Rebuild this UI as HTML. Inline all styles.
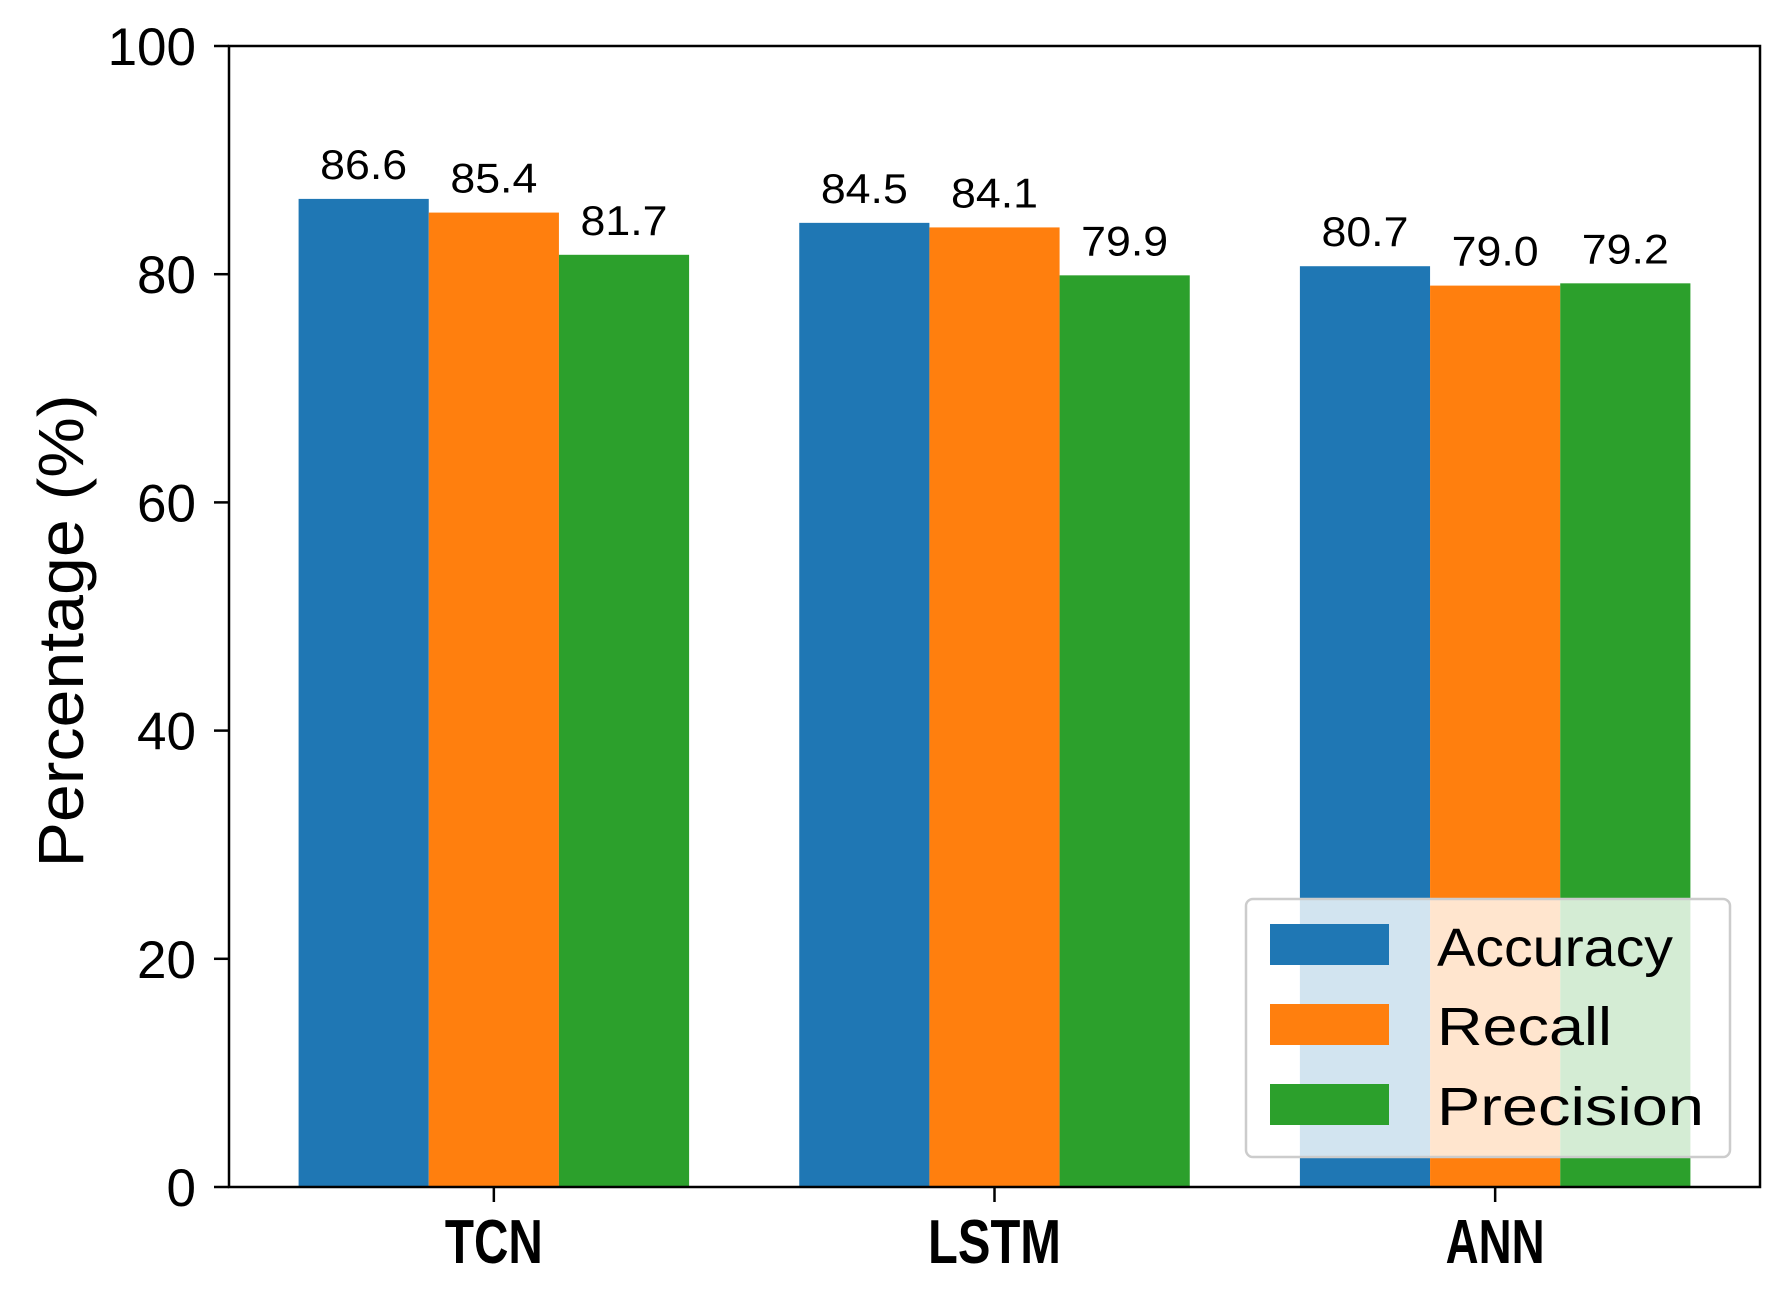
<!DOCTYPE html>
<html><head><meta charset="utf-8"><style>
html,body{margin:0;padding:0;background:#fff;}
svg{display:block;font-family:"Liberation Sans","Noto Sans CJK SC",sans-serif;}
</style></head><body>
<svg id="chart" width="1780" height="1293" viewBox="0 0 1780 1293" xmlns="http://www.w3.org/2000/svg">
<rect x="0" y="0" width="1780" height="1293" fill="#fff"/>
<g id="bars"></g>
<g id="labels"></g>
<g id="yticks"></g>
<g id="xticks"></g>
<rect x="229" y="46" width="1531" height="1141" fill="none" stroke="#000" stroke-width="2.5"/>
<text transform="translate(83,631) rotate(-90)" text-anchor="middle" font-size="64" textLength="473" lengthAdjust="spacingAndGlyphs">Percentage (%)</text>
<g id="legend">
<rect x="1246" y="899" width="484" height="258" rx="7" fill="#fff" fill-opacity="0.8" stroke="#ccc" stroke-width="2.5"/>
</g>
</svg>
<script>
const categories = ["TCN", "LSTM", "ANN"];
const seriesNames = ["Accuracy", "Recall", "Precision"];
const accuracy = [86.6, 84.5, 80.7];
const recall = [85.4, 84.1, 79.0];
const precision = [81.7, 79.9, 79.2];
const yTicks = [0, 20, 40, 60, 80, 100];

const series = [accuracy, recall, precision];
const colors = ["#1f77b4", "#ff7f0e", "#2ca02c"];
const NS = "http://www.w3.org/2000/svg";
const X0 = 229, X1 = 1760, Y0 = 1187, Y1 = 46;
const xMin = -0.529, xMax = 2.529, barW = 0.26;
function xs(v){ return X0 + (v - xMin) / (xMax - xMin) * (X1 - X0); }
function ys(v){ return Y0 - v / 100 * (Y0 - Y1); }
function mk(tag, attrs, parent){ const e = document.createElementNS(NS, tag); for (const k in attrs) e.setAttribute(k, attrs[k]); parent.appendChild(e); return e; }

const gb = document.getElementById('bars'), gl = document.getElementById('labels');
series.forEach((vals, s) => {
  vals.forEach((v, i) => {
    const c = i + (s - 1) * barW;
    const r = mk('rect', {x: xs(c - barW/2), y: ys(v), width: xs(c + barW/2) - xs(c - barW/2), height: ys(0) - ys(v), fill: colors[s]}, gb);
    
    
    const t = mk('text', {x: xs(c), y: ys(v) - 20, 'text-anchor': 'middle', 'font-size': 42, textLength: 87, lengthAdjust: 'spacingAndGlyphs'}, gl);
    t.textContent = v.toFixed(1);
    
    
  });
});

const gy = document.getElementById('yticks');
yTicks.forEach(v => {
  const l = mk('line', {x1: X0 - 15, x2: X0, y1: ys(v), y2: ys(v), stroke: '#000', 'stroke-width': 2.5}, gy);
  
  
  const t = mk('text', {x: 196, y: ys(v) + 19, 'text-anchor': 'end', 'font-size': 53}, gy);
  t.textContent = v;
  
  
});

const gx = document.getElementById('xticks');
const catLen = [98, 133, 99];
categories.forEach((c, i) => {
  const l = mk('line', {x1: xs(i), x2: xs(i), y1: Y0, y2: Y0 + 15, stroke: '#000', 'stroke-width': 2.5}, gx);
  
  
  const t = mk('text', {x: xs(i), y: 1263, 'text-anchor': 'middle', 'font-size': 62, 'font-weight': 'bold', textLength: catLen[i], lengthAdjust: 'spacingAndGlyphs'}, gx);
  t.textContent = c;
  
  
});

const lg = document.getElementById('legend');
const legY = [924, 1004, 1084], legBase = [966, 1045, 1125], legLen = [236, 175, 267];
seriesNames.forEach((n, s) => {
  const r = mk('rect', {x: 1270, y: legY[s], width: 119, height: 41, fill: colors[s]}, lg);
  
  
  const t = mk('text', {x: 1437, y: legBase[s], 'font-size': 54, textLength: legLen[s], lengthAdjust: 'spacingAndGlyphs'}, lg);
  t.textContent = n;
  
  
});
</script>
</body></html>
